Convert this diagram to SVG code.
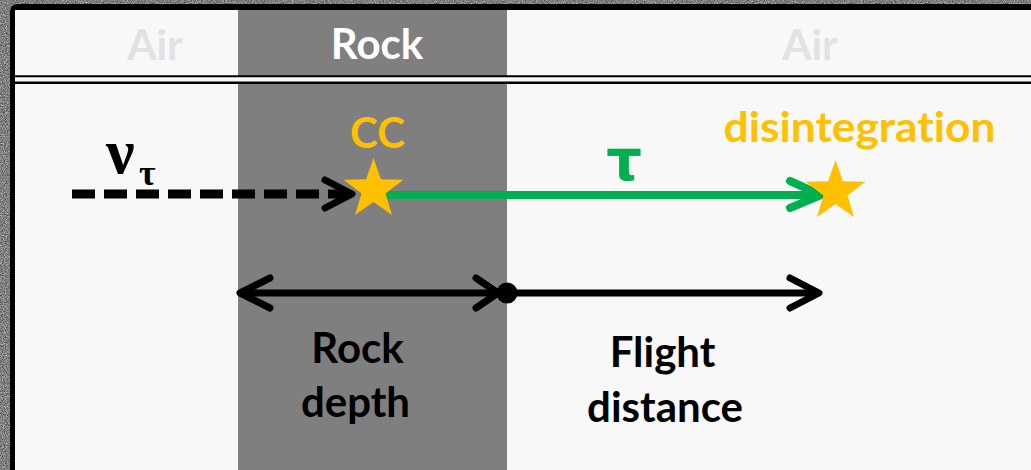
<svg xmlns="http://www.w3.org/2000/svg" width="1031" height="470" viewBox="0 0 1031 470">
  <defs>
    <filter id="grain" x="0" y="0" width="1031" height="470" filterUnits="userSpaceOnUse" color-interpolation-filters="sRGB">
      <feTurbulence type="fractalNoise" baseFrequency="0.9" numOctaves="2" seed="7" result="n"/>
      <feColorMatrix in="n" type="matrix" values="0.8 0 0 0 0.1  0.8 0 0 0 0.1  0.8 0 0 0 0.1  0 0 0 0 1"/>
    </filter>
    <path id="star" d="M0,-31.5 L7.4,-10.2 L29.96,-9.73 L11.98,3.9 L18.51,25.48 L0,12.6 L-18.51,25.48 L-11.98,3.9 L-29.96,-9.73 L-7.4,-10.2 Z"/>
    <style>
      text { font-variant-ligatures: none; font-feature-settings: "liga" 0, "clig" 0; }
      .hdr { font-family: Lato, "Open Sans", sans-serif; font-weight: bold; font-size: 42px; text-anchor: middle; }
      .lbl { font-family: Lato, "Open Sans", sans-serif; font-weight: bold; font-size: 42px; text-anchor: middle; fill: #000; }
      .gold { fill: #ffc000; }
      .blk { stroke: #000; stroke-width: 7; fill: none; stroke-linecap: round; stroke-linejoin: round; }
      .grn { stroke: #00b050; stroke-width: 8; fill: none; stroke-linecap: round; stroke-linejoin: round; }
    </style>
  </defs>

  <!-- textured surround and frame -->
  <rect x="0" y="0" width="1031" height="470" fill="#808080" filter="url(#grain)"/>
  <rect x="10" y="4" width="1040" height="480" rx="7" fill="#000"/>
  <rect x="15" y="10" width="1020" height="470" fill="#f8f8f8"/>

  <!-- rock layer -->
  <rect id="rock-layer" x="238" y="10" width="269" height="470" fill="#7f7f7f"/>

  <!-- header separator (double rule) -->
  <g id="header-rule">
    <rect x="15" y="77" width="1016" height="5" fill="#f8f8f8"/>
    <line x1="15" y1="76.3" x2="1031" y2="76.3" stroke="#000" stroke-width="2"/>
    <line x1="15" y1="82.7" x2="1031" y2="82.7" stroke="#000" stroke-width="2.6"/>
  </g>

  <!-- header labels -->
  <g id="header">
    <text class="hdr" x="155" y="60" fill="#e2e2e2">Air</text>
    <text class="hdr" x="377" y="59" fill="#ffffff">Rock</text>
    <text class="hdr" x="810" y="60" fill="#e2e2e2">Air</text>
  </g>

  <!-- connectors -->
  <g id="connectors">
    <line x1="72" y1="194" x2="348" y2="194" stroke="#000" stroke-width="9" stroke-dasharray="23 9"/>
    <polyline class="blk" points="325,180 352,194 325,208" stroke-width="8"/>
    <line x1="390" y1="195" x2="818" y2="195" class="grn"/>
    <polyline class="grn" points="790,181 821,195 790,208"/>
    <line x1="241" y1="293" x2="505" y2="293" class="blk"/>
    <polyline class="blk" points="270,278 240,293 270,308"/>
    <polyline class="blk" points="476,278 498,293 476,308"/>
    <line x1="507" y1="293" x2="817" y2="293" class="blk"/>
    <polyline class="blk" points="790,278 819,293 790,308"/>
    <circle cx="507" cy="293" r="10.5" fill="#000"/>
  </g>

  <!-- neutrino -->
  <g id="neutrino">
    <text x="106" y="173" font-family="Liberation Serif, serif" font-weight="bold" font-size="64" fill="#000">ν</text>
    <text x="139" y="185" font-family="Liberation Serif, serif" font-weight="bold" font-size="36" fill="#000">τ</text>
  </g>

  <!-- charged-current interaction -->
  <g id="cc">
    <use href="#star" x="373.5" y="189.5" class="gold"/>
    <text class="hdr gold" x="377.5" y="148">CC</text>
  </g>

  <!-- tau -->
  <g id="tau">
    <text x="624" y="180" font-family="DejaVu Sans, sans-serif" font-weight="bold" font-size="56" fill="#00b050" text-anchor="middle">τ</text>
  </g>

  <!-- decay -->
  <g id="decay">
    <use href="#star" x="835.5" y="191.5" class="gold"/>
    <text class="hdr gold" x="859.5" y="142" font-size="44" textLength="272" lengthAdjust="spacingAndGlyphs">disintegration</text>
  </g>

  <!-- distance labels -->
  <g id="rock-depth">
    <text class="lbl" x="357.5" y="363">Rock</text>
    <text class="lbl" x="355.5" y="417">depth</text>
  </g>
  <g id="flight-distance">
    <text class="lbl" x="662.5" y="367">Flight</text>
    <text class="lbl" x="665" y="422">distance</text>
  </g>
</svg>
